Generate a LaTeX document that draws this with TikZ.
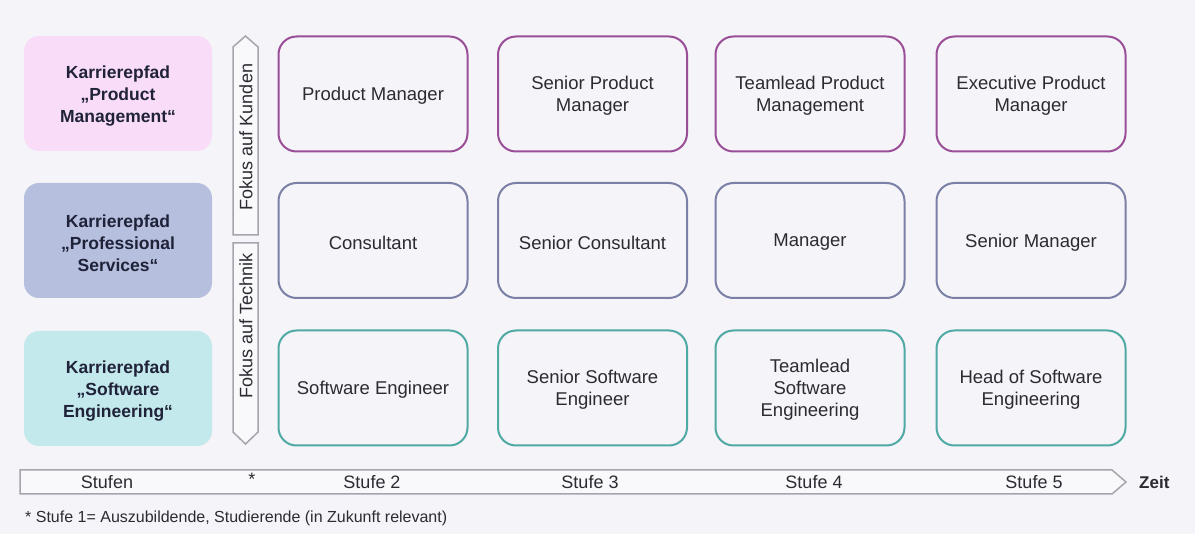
\documentclass[tikz,border=0pt]{standalone}
\usepackage{fontspec}
\setmainfont{Liberation Sans}
\definecolor{bg}{HTML}{F5F4F8}
\definecolor{pinkfill}{HTML}{F9DDF8}
\definecolor{bluefill}{HTML}{B6BFDE}
\definecolor{cyanfill}{HTML}{C3E9EC}
\definecolor{purpleline}{HTML}{9A4E98}
\definecolor{slateline}{HTML}{7B80A6}
\definecolor{tealline}{HTML}{4FA9A4}
\definecolor{grayline}{HTML}{A6A5AD}
\definecolor{textdark}{HTML}{2B2B33}
\definecolor{navy}{HTML}{1F2238}
\definecolor{arrowfill}{HTML}{F9F9FB}
\begin{document}
\begin{tikzpicture}[x=1pt,y=-1pt,
  pathtext/.style={align=center, text=navy, font=\fontsize{17.5}{22}\selectfont\bfseries, inner sep=0pt, yshift=-2.5pt},
  pathbox/.style={rounded corners=15pt, minimum width=188pt, minimum height=115pt, inner sep=0pt},
  roletext/.style={align=center, text=textdark, font=\fontsize{18.5}{22}\selectfont, inner sep=0pt, yshift=-2pt},
  rolebox/.style={draw, line width=2pt, rounded corners=18pt, minimum width=189pt,
    minimum height=115pt, fill=bg, inner sep=0pt},
  pmrole/.style={rolebox, draw=purpleline},
  psrole/.style={rolebox, draw=slateline},
  serole/.style={rolebox, draw=tealline},
  focusarrow/.style={draw=grayline, line width=1.5pt, fill=arrowfill, line join=miter},
  focustext/.style={rotate=90, text=textdark, font=\fontsize{18}{22}\selectfont, inner sep=0pt},
  steplabel/.style={text=textdark, font=\fontsize{18}{22}\selectfont, inner sep=0pt},
  ]
\fill[bg] (0,0) rectangle (1195,534);
\useasboundingbox (0,0) rectangle (1195,534);

% left path boxes
\node[pathbox, fill=pinkfill, label={[pathtext]center:Karrierepfad\\„Product\\Management“}] (pm) at (118,93.5) {};
\node[pathbox, fill=bluefill, label={[pathtext]center:Karrierepfad\\„Professional\\Services“}] (ps) at (118,240.5) {};
\node[pathbox, fill=cyanfill, label={[pathtext]center:Karrierepfad\\„Software\\Engineering“}] (se) at (118,388.5) {};

% focus arrows
\draw[focusarrow] (233,235) -- (233,47) -- (245.5,36) -- (258,47) -- (258,235) -- cycle;
\draw[focusarrow] (233,243) -- (258,243) -- (258,432) -- (245.5,444) -- (233,432) -- cycle;
\node[focustext] (fk) at (246,137) {Fokus auf Kunden};
\node[focustext] (ft) at (246,326) {Fokus auf Technik};

% role boxes
\node[pmrole, label={[roletext]center:Product Manager}] (pm2) at (373,94) {};
\node[pmrole, label={[roletext]center:Senior Product\\Manager}] (pm3) at (592.5,94) {};
\node[pmrole, label={[roletext]center:Teamlead Product\\Management}] (pm4) at (810,94) {};
\node[pmrole, label={[roletext]center:Executive Product\\Manager}] (pm5) at (1031,94) {};

\node[psrole, label={[roletext]center:Consultant}] (ps2) at (373,240.5) {};
\node[psrole, label={[roletext]center:Senior Consultant}] (ps3) at (592.5,240.5) {};
\node[psrole, label={[roletext]center:Manager}] (ps4) at (810,240.5) {};
\node[psrole, label={[roletext]center:Senior Manager}] (ps5) at (1031,240.5) {};

\node[serole, label={[roletext]center:Software Engineer}] (se2) at (373,388) {};
\node[serole, label={[roletext]center:Senior Software\\Engineer}] (se3) at (592.5,388) {};
\node[serole, label={[roletext]center:Teamlead\\Software\\Engineering}] (se4) at (810,388) {};
\node[serole, label={[roletext]center:Head of Software\\Engineering}] (se5) at (1031,388) {};

% time arrow
\draw[focusarrow] (20,470) -- (1112,470) -- (1126,482) -- (1112,494) -- (20,494) -- cycle;
\node[steplabel] (s0) at (107,482) {Stufen};
\node[steplabel] (s1) at (252,479) {*};
\node[steplabel] (s2) at (372,482) {Stufe 2};
\node[steplabel] (s3) at (590,482) {Stufe 3};
\node[steplabel] (s4) at (814,482) {Stufe 4};
\node[steplabel] (s5) at (1034,482) {Stufe 5};
\node[steplabel, font=\fontsize{17}{22}\selectfont\bfseries, anchor=west] (zeit) at (1139,482) {Zeit};

\node[text=textdark, font=\fontsize{16}{18}\selectfont, anchor=west, inner sep=0pt] (fn) at (25,518) {* Stufe 1= Auszubildende, Studierende (in Zukunft relevant)};
\end{tikzpicture}
\end{document}
